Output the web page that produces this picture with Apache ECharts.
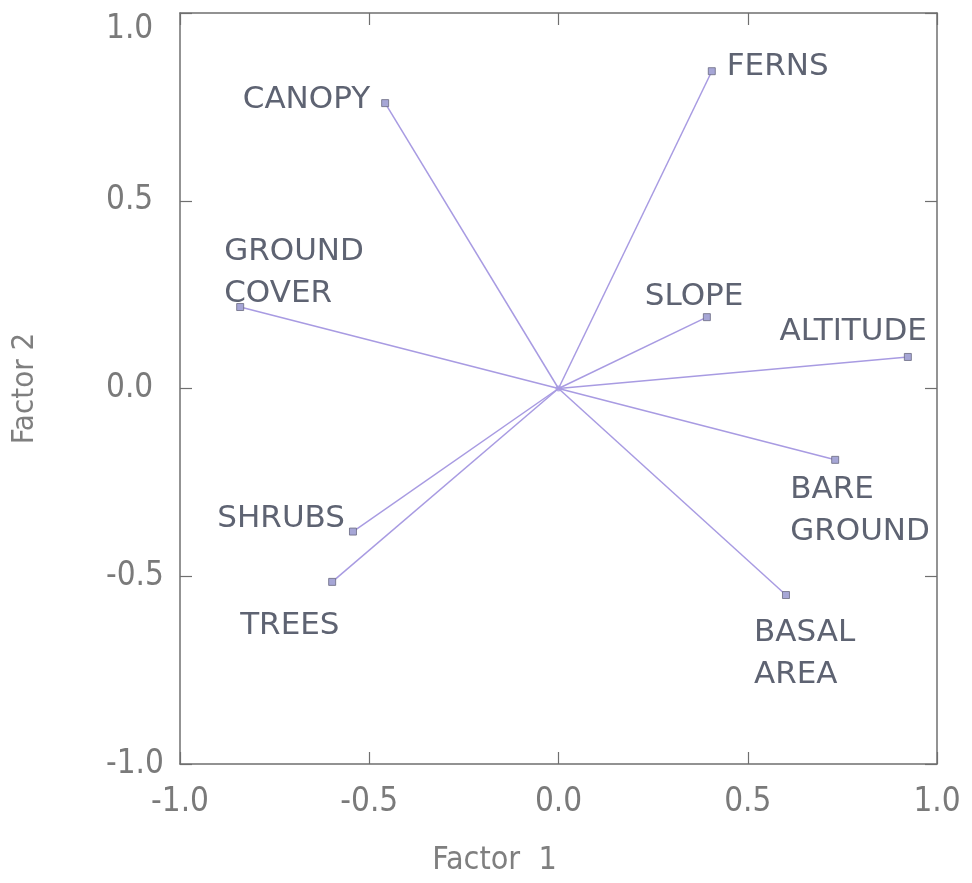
<!DOCTYPE html>
<html>
<head>
<meta charset="utf-8">
<script src="https://cdn.jsdelivr.net/npm/echarts@6/dist/echarts.min.js"></script>
<style>
html,body{margin:0;padding:0;background:#fff;}
#chart{width:972px;height:883px;}
</style>
</head>
<body>
<div id="chart"></div>
<script>
// Data
var variables = ['CANOPY', 'FERNS', 'GROUND\nCOVER', 'SLOPE', 'ALTITUDE', 'BARE\nGROUND', 'SHRUBS', 'TREES', 'BASAL\nAREA'];
var factor1 = [-0.458, 0.405, -0.841, 0.392, 0.923, 0.731, -0.543, -0.598, 0.601];
var factor2 = [0.760, 0.845, 0.217, 0.190, 0.084, -0.190, -0.381, -0.515, -0.550];
var tickValues = [-1.0, -0.5, 0.0, 0.5, 1.0];

// Label styling (not data)
var labelStyles = [
  {align: 'right', offset: [-15, -3]},
  {align: 'left', offset: [15, -4]},
  {align: 'left', offset: [-16, -34]},
  {align: 'left', offset: [-62, -20]},
  {align: 'right', offset: [19, -25]},
  {align: 'left', offset: [-45, 51]},
  {align: 'right', offset: [-8, -13]},
  {align: 'left', offset: [-92, 44]},
  {align: 'left', offset: [-32, 59]}
];

var lineColor = '#a89be2';
var textColor = '#5e6372';
var axisColor = '#6f6f6f';
var tickFont = '"Liberation Sans Narrow", "DejaVu Sans Condensed", sans-serif';

var series = variables.map(function (name, i) {
  var ls = labelStyles[i];
  return {
    type: 'line',
    name: name,
    data: [
      {value: [0, 0], symbolSize: 0, label: {show: false}},
      {value: [factor1[i], factor2[i]]}
    ],
    symbol: 'rect',
    symbolSize: 7,
    showAllSymbol: true,
    lineStyle: {color: lineColor, width: 1.5},
    itemStyle: {color: '#a6a6d6', borderColor: '#6a6a80', borderWidth: 0.8},
    label: {
      show: true,
      position: 'inside',
      formatter: name,
      align: ls.align,
      verticalAlign: 'middle',
      offset: ls.offset,
      color: textColor,
      fontFamily: '"DejaVu Sans", sans-serif',
      fontSize: 31,
      lineHeight: 42
    },
    emphasis: {disabled: true},
    silent: true,
    z: 3
  };
});

function fmt(v) { return v.toFixed(1); }

var commonAxis = {
  type: 'value',
  min: -1,
  max: 1,
  interval: 0.5,
  splitLine: {show: false},
  axisLine: {show: true, onZero: false, lineStyle: {color: axisColor, width: 1.5}},
  axisTick: {show: true, inside: true, length: 12, lineStyle: {color: axisColor, width: 1.2}}
};

var option = {
  backgroundColor: '#ffffff',
  animation: false,
  grid: {left: 180, right: 35, top: 13, bottom: 119, containLabel: false},
  xAxis: [
    Object.assign({}, commonAxis, {
      position: 'bottom',
      name: 'Factor  1',
      nameLocation: 'middle',
      nameGap: 81,
      nameTextStyle: {color: '#7f7f7f', fontSize: 32, fontFamily: tickFont, padding: [0, 128, 0, 0]},
      axisLabel: {
        show: true, margin: 22, color: '#7a7a7a', fontSize: 33, fontFamily: tickFont,
        formatter: function (v) { return fmt(v); }
      }
    }),
    Object.assign({}, commonAxis, {position: 'top', axisLabel: {show: false}})
  ],
  yAxis: [
    Object.assign({}, commonAxis, {
      position: 'left',
      name: 'Factor 2',
      nameLocation: 'middle',
      nameGap: 140,
      nameRotate: 90,
      nameTextStyle: {color: '#7f7f7f', fontSize: 31, fontFamily: tickFont},
      axisLabel: {
        show: true, margin: 74, align: 'left', color: '#7a7a7a', fontSize: 33, fontFamily: tickFont,
        formatter: function (v) { return v === 1 ? '{top|' + fmt(v) + '}' : fmt(v); },
        rich: {top: {fontSize: 33, fontFamily: tickFont, color: '#7a7a7a', padding: [32, 0, 0, 0]}}
      }
    }),
    Object.assign({}, commonAxis, {position: 'right', axisLabel: {show: false}})
  ],
  series: series.concat([{
    type: 'scatter',
    data: [[0, 0]],
    symbol: 'circle',
    symbolSize: 6,
    itemStyle: {color: lineColor},
    silent: true,
    z: 4
  }])
};

var chart = echarts.init(document.getElementById('chart'), null, {renderer: 'canvas'});
chart.setOption(option);
</script>
</body>
</html>
